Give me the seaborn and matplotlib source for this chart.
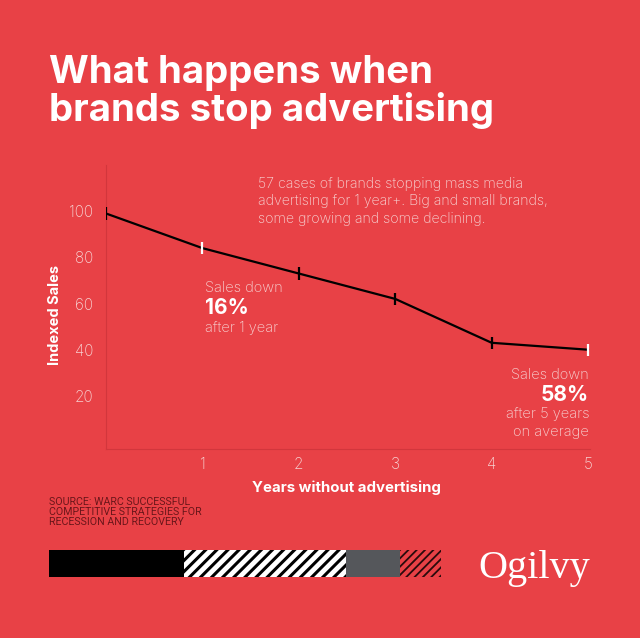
import numpy as np
import pandas as pd
import seaborn as sns
from matplotlib import pyplot as plt
from matplotlib.patches import Rectangle

sns.set_style('white')
plt.rcParams['font.family'] = ['Inter', 'DejaVu Sans']
plt.rcParams['hatch.linewidth'] = 2.2

BG = '#E84146'
PINK = '#F7D3D3'

years = [0, 1, 2, 3, 4, 5]
indexed_sales = [99, 84, 73, 62, 43, 40]
marker_colour = ['black', 'white', 'black', 'black', 'black', 'white']
x_ticks = [1, 2, 3, 4, 5]
y_ticks = [20, 40, 60, 80, 100]

title_lines = ['What happens when', 'brands stop advertising']
note = ('57 cases of brands stopping mass media\n'
        'advertising for 1 year+. Big and small brands,\n'
        'some growing and some declining.')
source_lines = ['SOURCE: WARC SUCCESSFUL', 'COMPETITIVE STRATEGIES FOR',
                'RECESSION AND RECOVERY']

# bottom decoration strip: (width px, face, hatch colour, hatch, hatch lw)
strip = [(135, 'black', None, None, 0),
         (162, 'white', 'black', '///', 2.2),
         (54, '#55575B', None, None, 0),
         (41, BG, '#2a0a0c', '////', 1.3)]

df = pd.DataFrame({'Years': years, 'Sales': indexed_sales,
                   'mark': marker_colour})

W, H = 640, 638
fig = plt.figure(figsize=(W / 100, H / 100), dpi=100, facecolor=BG)

ax = fig.add_axes([106 / W, (H - 449) / H, 484 / W, 284 / H])
ax.set_facecolor(BG)
sns.lineplot(data=df, x='Years', y='Sales', color='black', linewidth=1.6,
             ax=ax)
sns.scatterplot(data=df, x='Years', y='Sales', hue='mark',
                palette={'black': 'black', 'white': 'white'}, marker='|',
                s=80, linewidth=1.6, legend=False, ax=ax, zorder=3)
ax.set_xlim(0, 5.02)
ax.set_ylim(-3, 120)
ax.set_xticks(x_ticks)
ax.set_yticks(y_ticks)
ax.tick_params(length=0, labelsize=11, labelcolor=PINK)
ax.tick_params(axis='x', pad=6)
ax.tick_params(axis='y', pad=9)
for lab in ax.get_xticklabels() + ax.get_yticklabels():
    lab.set_fontweight('light')
for side in ['top', 'right']:
    ax.spines[side].set_visible(False)
for side in ['left', 'bottom']:
    ax.spines[side].set_color('#D2363C')
    ax.spines[side].set_linewidth(0.8)
ax.set_xlabel('')
ax.set_ylabel('')

fig.text(55 / W, 1 - 315 / H, 'Indexed Sales', rotation=90, color='white',
         fontsize=10.5, fontweight='bold', ha='center', va='center')
fig.text(346 / W, 1 - 488 / H, 'Years without advertising', color='white',
         fontsize=10.8, fontweight='bold', ha='center', va='center')

for i, line in enumerate(title_lines):
    fig.text(49 / W, 1 - (83 + 38 * i) / H, line, color='white',
             fontsize=27.6, fontweight='bold', ha='left', va='baseline')

fig.text(258 / W, 1 - 177 / H, note, color=PINK, fontsize=10.2,
         fontweight='light', ha='left', va='top', linespacing=1.3)

fig.text(205 / W, 1 - 288 / H, 'Sales down', color=PINK, fontsize=10.5,
         fontweight='light', ha='left', va='center')
fig.text(205 / W, 1 - 308 / H, '16%', color='white', fontsize=15,
         fontweight='bold', ha='left', va='center')
fig.text(205 / W, 1 - 328 / H, 'after 1 year', color=PINK, fontsize=10.5,
         fontweight='light', ha='left', va='center')

fig.text(589 / W, 1 - 375 / H, 'Sales down', color=PINK, fontsize=10.5,
         fontweight='light', ha='right', va='center')
fig.text(589 / W, 1 - 395 / H, '58%', color='white', fontsize=15,
         fontweight='bold', ha='right', va='center')
fig.text(589 / W, 1 - 414 / H, 'after 5 years', color=PINK, fontsize=10.5,
         fontweight='light', ha='right', va='center')
fig.text(589 / W, 1 - 432 / H, 'on average', color=PINK, fontsize=10.5,
         fontweight='light', ha='right', va='center')

for i, line in enumerate(source_lines):
    fig.text(49 / W, 1 - (505 + 10 * i) / H, line, color='#6A161A',
             fontsize=7.7, family=['Roboto', 'DejaVu Sans'], ha='left',
             va='baseline')

x0 = 49
for width, face, hcol, hatch, hlw in strip:
    r = Rectangle((x0 / W, 1 - 577 / H), width / W, 27 / H,
                  transform=fig.transFigure, facecolor=face,
                  edgecolor=hcol if hcol else face, linewidth=0,
                  hatch=hatch)
    if hatch and hasattr(r, 'set_hatch_linewidth'):
        r.set_hatch_linewidth(hlw)
    fig.patches.append(r)
    x0 += width

fig.text(478 / W, 1 - 578 / H, 'Ogilvy', color='white', fontsize=29,
         family=['Liberation Serif', 'DejaVu Serif'], ha='left',
         va='baseline')

fig.savefig('out.png', dpi=100, facecolor=BG)
